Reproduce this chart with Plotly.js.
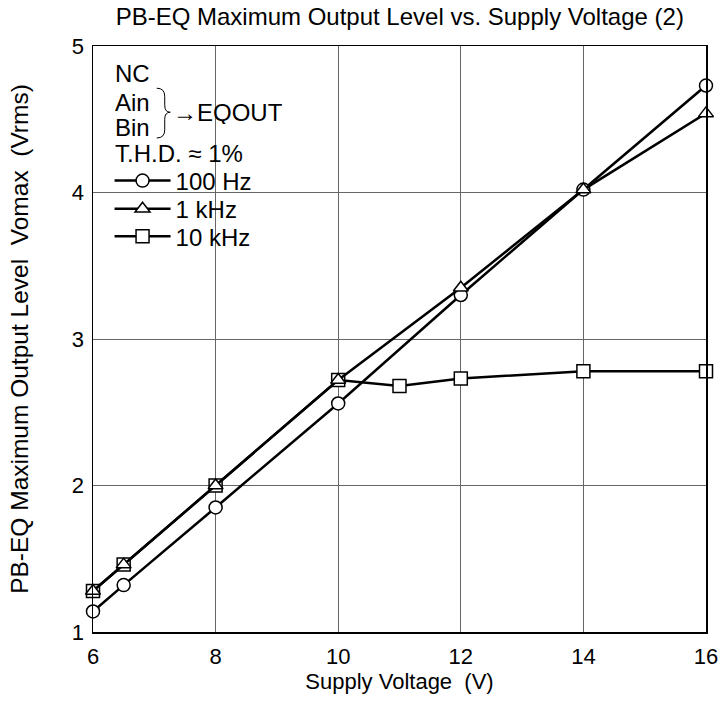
<!DOCTYPE html>
<html><head><meta charset="utf-8">
<script src="https://cdn.plot.ly/plotly-3.0.1.min.js"></script>
<style>html,body{margin:0;padding:0;background:#fff}</style>
</head><body>
<div id="chart" style="width:719px;height:702px"></div>
<script>
const voltage100 = [6, 6.5, 8, 10, 12, 14, 16];
const vomax100 = [1.14, 1.32, 1.85, 2.56, 3.30, 4.02, 4.73];
const voltage1k = [6, 6.5, 8, 10, 12, 14, 16];
const vomax1k = [1.28, 1.46, 2.00, 2.72, 3.35, 4.02, 4.54];
const voltage10k = [6, 6.5, 8, 10, 11, 12, 14, 16];
const vomax10k = [1.28, 1.46, 2.00, 2.72, 2.68, 2.73, 2.78, 2.78];
const xTicks = [6, 8, 10, 12, 14, 16];
const yTicks = [1, 2, 3, 4, 5];

const font = "Liberation Sans, Arial, sans-serif";
const mk = (sym) => ({symbol: sym, size: 13, color: '#fff', line: {color: '#000', width: 1.5}});
const ln = {color: '#000', width: 2.5};

const traces = [
  {x: voltage100, y: vomax100, name: '100 Hz', mode: 'lines+markers', line: ln, marker: mk('circle'), legend: 'legend', cliponaxis: false},
  {x: voltage10k, y: vomax10k, name: '10 kHz', mode: 'lines+markers', line: ln, marker: mk('square'), legend: 'legend3', cliponaxis: false},
  {x: voltage1k, y: vomax1k, name: '1 kHz', mode: 'lines+markers', line: ln, marker: mk('triangle-up'), legend: 'legend2', cliponaxis: false}
];

const S = '\u00a0';
const leg = (y) => ({x: 0.027, y: y, xanchor: 'left', yanchor: 'top', bgcolor: 'rgba(255,255,255,0)', borderwidth: 0,
  font: {size: 24, family: font}, itemwidth: 56});
const ann = (text, x, y) => ({text: text, xref: 'paper', yref: 'paper', x: x, y: y, xanchor: 'left', yanchor: 'middle',
  showarrow: false, height: 24, font: {size: 24}});
const layout = {
  width: 719, height: 702,
  margin: {l: 93, r: 13, t: 46, b: 70},
  paper_bgcolor: '#fff', plot_bgcolor: '#fff',
  font: {family: font, color: '#000', size: 22},
  title: {text: 'PB-EQ Maximum Output Level vs. Supply Voltage (2)', font: {size: 24, family: font}, x: 0.556, xanchor: 'center', y: 0.976, yanchor: 'middle'},
  xaxis: {range: [6, 16], tickvals: xTicks, ticktext: xTicks.map(String), showgrid: true, gridcolor: '#666', gridwidth: 1,
    showline: true, mirror: true, linecolor: '#000', linewidth: 1.5, zeroline: false, ticks: '', ticklen: 0, ticklabelstandoff: 4,
    tickfont: {size: 22}, title: {text: 'Supply Voltage' + S + S + '(V)', font: {size: 22}, standoff: 4}},
  yaxis: {range: [1, 5], tickvals: yTicks, ticktext: yTicks.map(String), showgrid: true, gridcolor: '#666', gridwidth: 1,
    showline: true, mirror: true, linecolor: '#000', linewidth: 1.5, zeroline: false, ticks: '', ticklen: 0, ticklabelstandoff: 3,
    tickfont: {size: 22}, title: {text: 'PB-EQ Maximum Output Level' + S + S + 'Vomax' + S + S + '(Vrms)', font: {size: 24.5}, standoff: 36}},
  showlegend: true,
  legend: leg(0.808),
  legend2: leg(0.760),
  legend3: leg(0.713),
  shapes: [
    {type: 'rect', xref: 'paper', yref: 'paper', x0: 0.023, x1: 0.321, y0: 0.652, y1: 0.981, fillcolor: '#fff', line: {width: 0}, layer: 'below'},
    {type: 'path', xref: 'paper', yref: 'paper',
     path: 'M 0.104 0.928 Q 0.117 0.928 0.117 0.914 L 0.117 0.899 Q 0.117 0.887 0.126 0.887 Q 0.117 0.887 0.117 0.875 L 0.117 0.857 Q 0.117 0.843 0.104 0.843',
     line: {color: '#000', width: 1}}
  ],
  annotations: [
    ann('NC', 0.033, 0.954),
    ann('Ain', 0.033, 0.904),
    ann('Bin', 0.033, 0.862),
    ann('→EQOUT', 0.128, 0.887),
    ann('T.H.D. ≈ 1%', 0.033, 0.817)
  ]
};

Plotly.newPlot('chart', traces, layout, {displayModeBar: false, staticPlot: true});
</script>
</body></html>
